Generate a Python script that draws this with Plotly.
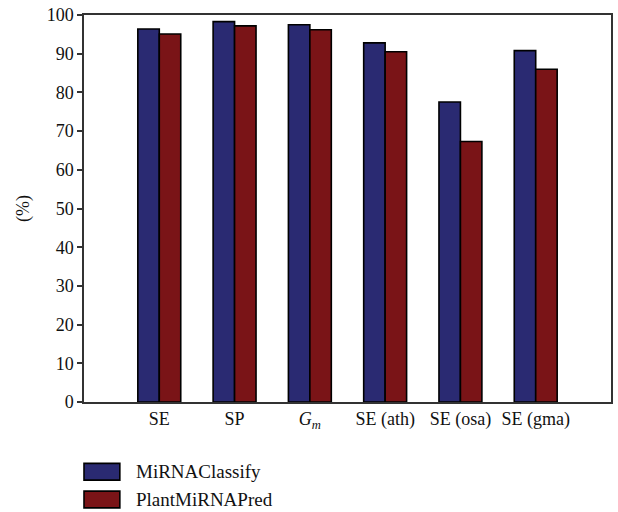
import plotly.graph_objects as go

# Evaluation metrics (%) for the two predictors
categories = ["SE", "SP", "<i>G</i><sub><i>m</i></sub>", "SE (ath)", "SE (osa)", "SE (gma)"]
mirna_classify = [96.4, 98.3, 97.5, 92.8, 77.5, 90.8]
plant_mirna_pred = [95.1, 97.2, 96.2, 90.5, 67.3, 86.0]
series_names = ["MiRNAClassify", "PlantMiRNAPred"]
y_ticks = [0, 10, 20, 30, 40, 50, 60, 70, 80, 90, 100]

colors = ["#2A2A72", "#7A1417"]
font_family = "Liberation Serif"
x_pos = list(range(len(categories)))

fig = go.Figure()
for name, vals, col in zip(series_names, [mirna_classify, plant_mirna_pred], colors):
    fig.add_trace(go.Bar(
        x=x_pos, y=vals, name=name, showlegend=False,
        marker=dict(color=col, line=dict(color="black", width=1.6)),
    ))

axis_col = "#333333"
fig.update_layout(
    width=618, height=512,
    margin=dict(l=84, r=5, t=11, b=110),
    plot_bgcolor="white", paper_bgcolor="white",
    barmode="group", bargap=0.43, bargroupgap=0,
    font=dict(family=font_family, size=18, color="#111111"),
    xaxis=dict(
        range=[-1, 6], tickmode="array", tickvals=x_pos, ticktext=categories,
        showgrid=False, zeroline=False, ticks="", showline=True,
        linecolor=axis_col, linewidth=1.5, mirror=True,
        tickfont=dict(size=18, family=font_family),
    ),
    yaxis=dict(
        range=[0, 100], tickmode="array", tickvals=y_ticks,
        showgrid=False, zeroline=False, ticks="outside", ticklen=5,
        tickwidth=1.5, tickcolor=axis_col, showline=True,
        linecolor=axis_col, linewidth=1.5, mirror=True,
        title=dict(text="(%)", font=dict(size=18, family=font_family), standoff=12),
        tickfont=dict(size=18, family=font_family),
    ),
    yaxis2=dict(
        range=[0, 100], overlaying="y", side="right", tickmode="array",
        tickvals=y_ticks, showticklabels=False, ticks="inside", ticklen=5,
        tickwidth=1.5, tickcolor=axis_col, showgrid=False, zeroline=False,
        showline=False,
    ),
)

# Legend drawn below the axes with wide swatches
legend_rows = [(-0.1586, -0.2020), (-0.2302, -0.2737)]
for (y0, y1), name, col in zip(legend_rows, series_names, colors):
    fig.add_shape(type="rect", xref="paper", yref="paper",
                  x0=0.0, x1=0.068, y0=y1, y1=y0,
                  fillcolor=col, line=dict(color="black", width=1.6))
    fig.add_annotation(xref="paper", yref="paper", x=0.0945, y=(y0 + y1) / 2,
                       text=name, showarrow=False, xanchor="left", yanchor="middle",
                       font=dict(size=19, family=font_family, color="#111111"))

fig.write_html("out.html")
